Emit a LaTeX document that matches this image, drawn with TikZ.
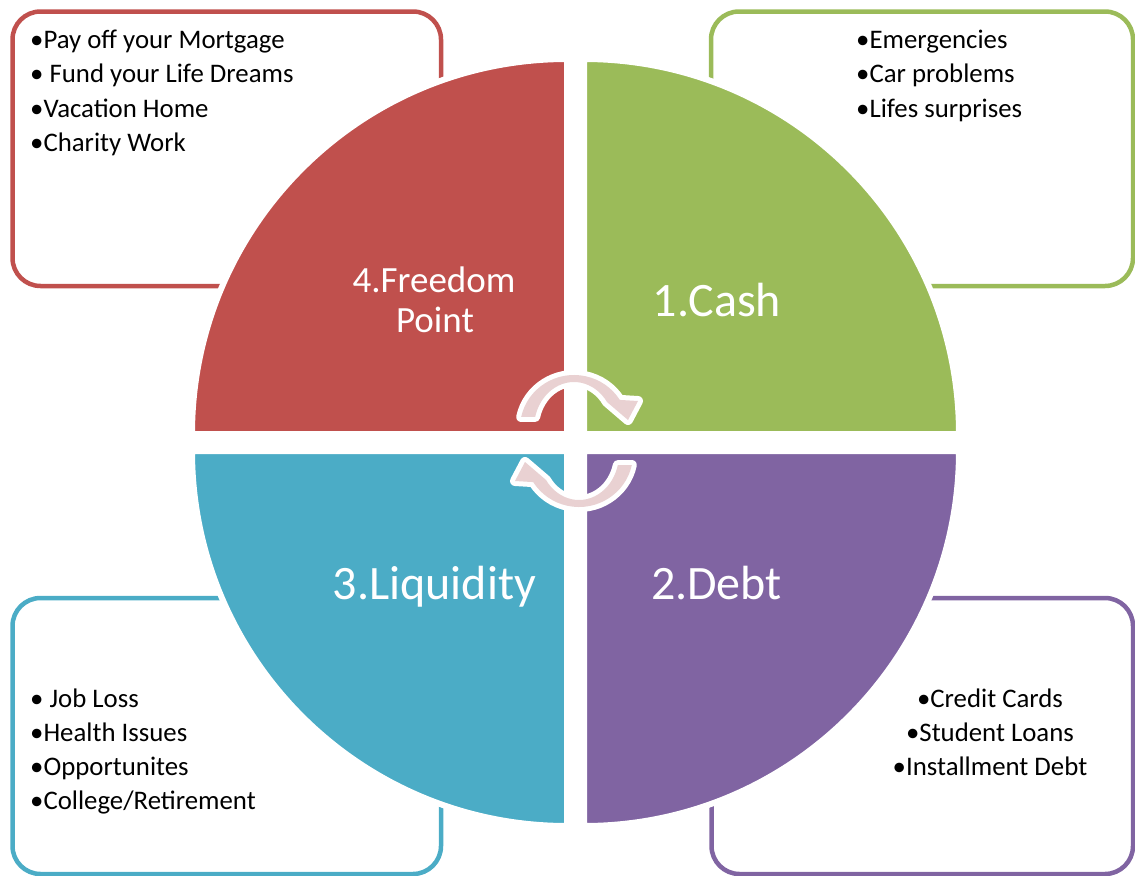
\documentclass[tikz,border=0pt]{standalone}
\usepackage{fontspec}
\setmainfont{Carlito}
\definecolor{cred}{HTML}{C0504D}
\definecolor{cgreen}{HTML}{9BBB59}
\definecolor{cblue}{HTML}{4BACC6}
\definecolor{cpurple}{HTML}{8064A2}
\definecolor{cpink}{HTML}{E9D1D2}
\begin{document}
\begin{tikzpicture}[x=1bp,y=-1bp,
  boxline/.style={line width=4.5bp, rounded corners=28bp},
  sector/.style={draw=white, line width=6bp},
  listtext/.style={inner sep=0pt, font=\fontsize{26.8bp}{34bp}\selectfont},
  bigtext/.style={inner sep=0pt, text=white, font=\fontsize{48bp}{52bp}\selectfont},
  midtext/.style={inner sep=0pt, text=white, font=\fontsize{37bp}{40bp}\selectfont},
  cycarrow/.style={fill=cpink, preaction={draw=white, line width=10bp, line join=round}}]
\useasboundingbox (0,0) rectangle (1135,876);
% outline boxes
\draw[boxline, cred] (12.5,11.5) rectangle (441,286);
\draw[boxline, cgreen] (711,11.5) rectangle (1133,286);
\draw[boxline, cblue] (12.5,598) rectangle (441,874);
\draw[boxline, cpurple] (711.5,598) rectangle (1133,874);
% quarter sectors
\fill[cred, sector] (567,434) -- (192,434) arc[start angle=180, end angle=270, radius=375] -- cycle;
\fill[cgreen, sector] (584,434) -- (584,59) arc[start angle=270, end angle=360, radius=375] -- cycle;
\fill[cpurple, sector] (584,451) -- (959,451) arc[start angle=0, end angle=90, radius=375] -- cycle;
\fill[cblue, sector] (567,451) -- (567,826) arc[start angle=90, end angle=180, radius=375] -- cycle;
% list texts
\node[listtext, anchor=base west] (r1) at (30,48.5) {•Pay off your Mortgage};
\node[listtext, anchor=base west] (r2) at (30,82.8) {• Fund your Life Dreams};
\node[listtext, anchor=base west] (r3) at (30,117) {•Vacation Home};
\node[listtext, anchor=base west] (r4) at (30,151.4) {•Charity Work};
\node[listtext, anchor=base west] (g1) at (856,48.5) {•Emergencies};
\node[listtext, anchor=base west] (g2) at (856,82.8) {•Car problems};
\node[listtext, anchor=base west] (g3) at (856,117) {•Lifes surprises};
\node[listtext, anchor=base west] (b1) at (30,707) {• Job Loss};
\node[listtext, anchor=base west] (b2) at (30,741) {•Health Issues};
\node[listtext, anchor=base west] (b3) at (30,775) {•Opportunites};
\node[listtext, anchor=base west] (b4) at (30,809) {•College/Retirement};
\node[listtext, anchor=base] (p1) at (990,707) {•Credit Cards};
\node[listtext, anchor=base] (p2) at (990,741) {•Student Loans};
\node[listtext, anchor=base] (p3) at (990,775) {•Installment Debt};
% sector labels
\node[bigtext, anchor=base] (cash) at (717,316) {1.Cash};
\node[bigtext, anchor=base] (debt) at (716.5,599) {2.Debt};
\node[bigtext, anchor=base] (liq) at (434.5,599) {3.Liquidity};
\node[midtext, anchor=base] (free1) at (434,292) {4.Freedom};
\node[midtext, anchor=base] (free2) at (435,332) {Point};
% circular arrows
\begin{scope}[shift={(574,428)}]
\fill[cycarrow] (192:54 and 53) arc[start angle=192, end angle=328, x radius=54, y radius=53]
  -- (64,-27) -- (54,-8) -- (325.6:40 and 46) arc[start angle=325.6, end angle=194, x radius=40, y radius=46] -- cycle;
\end{scope}
\begin{scope}[shift={(579,454)}, rotate=180]
\fill[cycarrow] (192:54 and 53) arc[start angle=192, end angle=328, x radius=54, y radius=53]
  -- (64,-27) -- (54,-8) -- (325.6:40 and 46) arc[start angle=325.6, end angle=194, x radius=40, y radius=46] -- cycle;
\end{scope}
\end{tikzpicture}
\end{document}
